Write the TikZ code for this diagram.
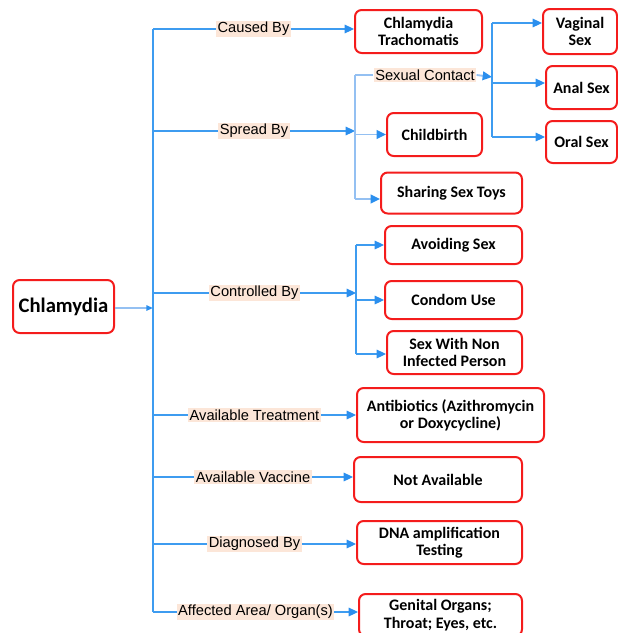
\documentclass[tikz,border=0pt]{standalone}
\usepackage{fontspec}
\setmainfont{Liberation Sans}
\newfontfamily\boxfont{Carlito}
\usetikzlibrary{arrows.meta}
\definecolor{linkblue}{HTML}{3E9CF0}
\definecolor{paleblue}{HTML}{94C0F2}
\definecolor{tipblue}{HTML}{2B8FEE}
\definecolor{peach}{HTML}{FCE6D8}
\definecolor{boxred}{HTML}{F41C1C}

\begin{document}
\begin{tikzpicture}[x=0.75pt,y=-0.75pt,
  >={Triangle[length=7pt,width=6.5pt]},
  link/.style={draw=linkblue,line width=0.8pt},
  sublink/.style={draw=paleblue,line width=1.4pt},
  tip/.style={-{Triangle[length=7pt,width=6.5pt,color=tipblue]}},
  leaf node/.style={rectangle,rounded corners=5pt,draw=boxred,line width=1.5pt,
    fill=white,align=center,font=\boxfont\bfseries\fontsize{12}{13}\selectfont,inner sep=1pt},
  tag/.style={fill=peach,inner sep=1.2pt,font=\fontsize{11}{13}\selectfont}]

  \useasboundingbox (0,0) rectangle (618,633);
  \clip (0,0) rectangle (618,633);

  % disease and trunk
  \node[leaf node,minimum width=75.75pt,minimum height=39.75pt,
    font=\boxfont\bfseries\fontsize{15.5}{17}\selectfont] (chl) at (63.5,306.5) {Chlamydia};
  \coordinate (top) at (153,29);
  \coordinate (bot) at (153,612);
  \coordinate (mid) at (153,308);

  % first level boxes
  \node[leaf node,minimum width=95.25pt,minimum height=32.25pt] (trach) at (418.5,31.5) {Chlamydia\\Trachomatis};
  \node[leaf node,minimum width=140.25pt,minimum height=40.5pt] (anti) at (450.5,415) {Antibiotics (Azithromycin\\or Doxycycline)};
  \node[leaf node,minimum width=126pt,minimum height=33.75pt] (notav) at (438,479.5) {Not Available};
  \node[leaf node,minimum width=123.75pt,minimum height=32.25pt] (dna) at (439.5,542.5) {DNA amplification\\Testing};
  \node[leaf node,minimum width=122.25pt,minimum height=31.5pt] (genit) at (440.5,615) {Genital Organs;\\Throat; Eyes, etc.};

  % spread
  \coordinate (spr) at (355,131);
  \node[tag] (sexc) at (425,75) {Sexual Contact};
  \node[leaf node,minimum width=71.25pt,minimum height=32.25pt] (child) at (434.5,134.5) {Childbirth};
  \node[leaf node,minimum width=105.75pt,minimum height=30.75pt] (toys) at (451.5,193) {Sharing Sex Toys};
  \coordinate (sexsplit) at (492,77);
  \node[leaf node,minimum width=55.5pt,minimum height=33.75pt] (vag) at (580,31.5) {Vaginal\\Sex};
  \node[leaf node,minimum width=53.25pt,minimum height=32.25pt] (anal) at (581.5,87.5) {Anal Sex};
  \node[leaf node,minimum width=53.25pt,minimum height=31.5pt] (oral) at (581.5,142) {Oral Sex};

  % control
  \coordinate (ctl) at (356,293);
  \node[leaf node,minimum width=102.75pt,minimum height=28.5pt] (avoid) at (453.5,245) {Avoiding Sex};
  \node[leaf node,minimum width=102.75pt,minimum height=28.5pt] (condom) at (453.5,300) {Condom Use};
  \node[leaf node,minimum width=101.25pt,minimum height=32.25pt] (noninf) at (454.5,352.5) {Sex With Non\\Infected Person};

  % trunk
  \path[link] (top) -- (bot);
  \draw[sublink,-{Triangle[length=5pt,width=4pt,color=tipblue]}] (chl.east |- mid) -- (mid);

  % branches
  \path[link,tip] (top) -- node[tag] {Caused By} (top -| trach.west);
  \path[link,tip] (top |- spr) -- node[tag] {Spread By} (spr);
  \path[link,tip] (top |- ctl) -- node[tag] {Controlled By} (ctl);
  \path[link,tip] (top |- anti) -- node[tag] {Available Treatment} (anti.west);
  \path[link,tip] (top |- 0,477) -- node[tag] {Available Vaccine} (notav.west |- 0,477);
  \path[link,tip] (top |- 0,544) -- node[tag] {Diagnosed By} (dna.west |- 0,544);
  \path[link,tip] (bot) -- node[tag] {Affected Area/ Organ(s)} (bot -| genit.west);

  % spread sub-branches
  \path[sublink] (spr |- sexc) -- (spr |- 0,199);
  \path[sublink] (spr |- sexc) -- (sexc.west);
  \path[sublink,tip] (spr |- child) -- (child.west);
  \path[sublink,tip] (spr |- 0,199) -- (toys.west |- 0,199);
  \path[sublink,tip] (sexc.east) -- (sexsplit);
  \path[link] (sexsplit |- 0,23) -- (sexsplit |- 0,137);
  \path[link,tip] (sexsplit |- 0,23) -- (vag.west |- 0,23);
  \path[link,tip] (sexsplit |- 0,83) -- (anal.west |- 0,83);
  \path[link,tip] (sexsplit |- 0,137) -- (oral.west |- 0,137);

  % control sub-branches
  \path[link] (ctl |- avoid) -- (ctl |- 0,354);
  \path[link,tip] (ctl |- avoid) -- (avoid.west);
  \path[link,tip] (ctl |- condom) -- (condom.west);
  \path[link,tip] (ctl |- 0,354) -- (noninf.west |- 0,354);
\end{tikzpicture}
\end{document}
